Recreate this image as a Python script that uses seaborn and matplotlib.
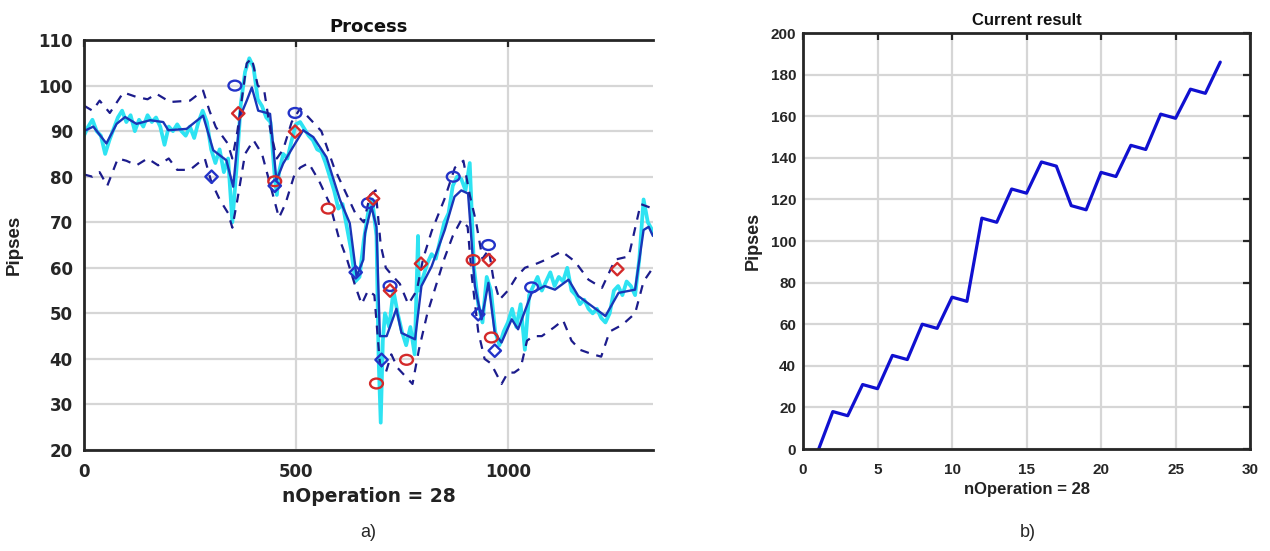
import matplotlib
matplotlib.use("Agg")
import matplotlib.pyplot as plt
import matplotlib.path as mpath
from matplotlib.transforms import Affine2D
import seaborn as sns

# ---------- panel a) Process ----------
raw_x = [0, 10, 20, 30, 40, 50, 60, 70, 80, 90, 100, 110, 120, 130, 140, 150, 160, 170, 180, 190,
         200, 210, 220, 230, 240, 250, 260, 270, 280, 290, 300, 310, 320, 330, 340, 350, 360, 370,
         380, 390, 400, 410, 420, 430, 440, 450, 455, 460, 470, 480, 490, 500, 510, 520, 530, 540,
         550, 560, 570, 580, 590, 600, 610, 620, 630, 640, 650, 660, 670, 680, 690, 695, 700, 705,
         710, 720, 730, 740, 750, 760, 770, 780, 788, 790, 800, 810, 820, 830, 840, 850, 860, 870,
         880, 890, 900, 910, 920, 930, 940, 950, 960, 970, 980, 990, 1000, 1010, 1020, 1030, 1040,
         1050, 1060, 1070, 1080, 1090, 1100, 1110, 1120, 1130, 1140, 1150, 1160, 1170, 1180, 1190,
         1200, 1210, 1220, 1230, 1240, 1250, 1260, 1270, 1280, 1290, 1300, 1310, 1320, 1330, 1342]
raw_y = [89, 91, 92.5, 90, 89, 85, 88, 90.5, 93, 94.5, 92, 93.5, 90, 92.5, 91, 93.5, 92, 93, 91, 87,
         91, 90, 91.5, 90, 89, 91, 88.5, 92, 94.5, 92, 86, 83, 86, 81, 84, 70, 82, 96,
         103, 106, 104, 97, 95.5, 93, 92, 80, 76, 81, 85, 84, 88, 91.5, 92, 90.5, 89, 88,
         86, 85.5, 83, 80, 77, 73, 74, 69, 64, 57, 58, 66, 72, 75, 67, 40, 26, 44,
         50, 47, 55, 50, 46, 43, 47, 41, 67, 55, 58, 61, 63, 62, 66, 70, 72, 78,
         80, 79.5, 77, 83, 60, 52, 48, 58, 55, 46, 43, 46, 48, 51, 47, 52, 42,
         54, 56, 58, 55, 57, 59, 56, 58, 57, 60, 55, 54, 52, 53, 51,
         50, 51, 49, 48, 50, 55, 56, 54, 57, 56, 54, 62, 75, 70, 68]

mean_x = [0, 22, 53, 77, 97, 124, 156, 187, 199, 242, 281, 305, 336, 352, 368, 384, 396, 411, 439,
          454, 470, 493, 517, 541, 572, 604, 627, 643, 659, 663, 678, 690, 698, 714, 737, 749, 781,
          796, 820, 851, 874, 890, 906, 922, 938, 954, 969, 985, 1009, 1024, 1056, 1087, 1111,
          1143, 1166, 1198, 1230, 1261, 1300, 1320, 1332, 1342]
mean_y = [90, 91, 87.3, 91.6, 93.1, 91.6, 92.4, 92, 90.2, 90.5, 93.4, 85.8, 83.6, 77.8, 93.1, 96.7,
          99.6, 94.5, 93.8, 79.2, 82.9, 86.5, 90.2, 88.7, 84.3, 74.9, 69.8, 58.1, 61.8, 67.6, 73.4,
          69, 45, 45, 51, 45.7, 44.3, 56, 60.3, 68.3, 75.6, 77, 76.3, 56, 48.7, 56.7, 45.7, 43.6,
          48.7, 46.5, 54.5, 56, 55.2, 57.4, 53.8, 51.6, 49.4, 54.5, 55.2, 68.3, 69, 67]

up_x = [0, 20, 37, 61, 93, 124, 150, 171, 203, 250, 281, 296, 311, 339, 350, 362, 384, 396, 410,
        425, 440, 455, 470, 490, 510, 530, 560, 590, 615, 640, 660, 675, 688, 700, 712, 730, 745,
        765, 785, 800, 820, 850, 875, 895, 910, 925, 940, 955, 965, 980, 1000, 1020, 1040, 1070,
        1095, 1127, 1158, 1190, 1222, 1253, 1285, 1313, 1342]
up_y = [95.6, 94.5, 96.7, 94, 98.5, 97.5, 97, 98.2, 96.4, 96.7, 98.9, 94.5, 90.9, 87.3, 84, 90,
        104.9, 106, 100, 99, 90, 84, 86, 92, 95, 93, 90, 82, 77, 72, 70, 76, 77, 65, 60, 58, 56.5,
        52, 55, 62, 68, 75, 82, 83.5, 76, 70, 62, 64, 58, 53, 55, 58, 60, 61,
        62, 63.6, 61.4, 57.4, 55.6, 61.8, 62.5, 74, 73]

lo_x = [0, 20, 37, 55, 80, 100, 124, 150, 175, 200, 220, 250, 270, 285, 300, 320, 340, 350, 362,
        380, 400, 420, 440, 460, 475, 495, 510, 530, 555, 580, 600, 620, 640, 655, 670, 685, 698,
        712, 725, 740, 760, 775, 790, 810, 830, 850, 870, 890, 905, 915, 930, 945, 960, 985, 1000,
        1015, 1030, 1045, 1060, 1080, 1110, 1130, 1150, 1170, 1200, 1220, 1240, 1270, 1300, 1320,
        1342]
lo_y = [80.5, 80, 81, 78, 84, 83.5, 82.5, 84, 82.5, 84, 81.5, 81.5, 83, 84, 79, 75, 72, 68.8, 75,
        85, 88, 85, 78, 71, 74, 80, 82, 83, 79, 74, 67, 62, 56, 52, 55, 54, 39,
        37, 41, 38, 36, 34.5, 42, 50, 56, 62, 67, 70.5, 69, 58, 46, 40, 39, 34.5, 37,
        37, 38, 44, 45, 45, 47, 48.5, 44, 42, 41, 40.5, 46, 47.5, 50, 57,
        60]

blue_circ_x = [356, 498, 671, 722, 871, 954, 1056]
blue_circ_y = [100, 94, 74.2, 56, 80, 65, 55.7]
red_circ_x = [450, 576, 690, 761, 918, 961]
red_circ_y = [79, 73, 34.6, 39.8, 61.7, 44.7]
blue_dia_x = [301, 450, 641, 702, 930, 969]
blue_dia_y = [80, 78, 59, 39.8, 49.8, 41.8]
red_dia_x = [364, 498, 682, 722, 795, 955, 1258]
red_dia_y = [93.9, 89.9, 75.2, 55, 60.9, 61.7, 59.7]

# ---------- panel b) Current result ----------
ops = list(range(1, 29))
pipses = [-1, 18, 16, 31, 29, 45, 43, 60, 58, 73, 71, 111, 109, 125, 123, 138, 136, 117, 115,
          133, 131, 146, 144, 161, 159, 173, 171, 186]

sns.set_theme(style="whitegrid")
plt.rcParams['font.family'] = ['Liberation Sans', 'DejaVu Sans']

fig = plt.figure(figsize=(12.7, 5.51), dpi=100)
axL = fig.add_axes([0.0661, 0.1833, 0.448, 0.744])
axR = fig.add_axes([0.6323, 0.1851, 0.352, 0.755])

spine_c = '#262626'
grid_c = '#d6d6d6'

def style(ax, right_spine, tick_fs, family):
    ax.set_facecolor('white')
    ax.grid(True, color=grid_c, lw=1.6)
    for s in ['left', 'bottom', 'top', 'right']:
        ax.spines[s].set_color(spine_c)
        ax.spines[s].set_linewidth(2)
    ax.spines['right'].set_visible(right_spine)
    ax.tick_params(direction='in', length=5, width=1.6, color=spine_c,
                   labelcolor=spine_c, top=True, right=right_spine, labelsize=tick_fs)
    for lab in ax.get_xticklabels() + ax.get_yticklabels():
        lab.set_fontweight('bold')
        lab.set_family(family)

ell = mpath.Path.unit_circle().transformed(Affine2D().scale(1.3, 1.0))
blue_m = '#2333c8'
red_m = '#d42a2a'

sns.lineplot(x=raw_x, y=raw_y, ax=axL, color='#2ee3f2', lw=2.7, sort=False, estimator=None)
sns.lineplot(x=mean_x, y=mean_y, ax=axL, color='#1a36b8', lw=1.7, sort=False, estimator=None)
sns.lineplot(x=up_x, y=up_y, ax=axL, color='#1c1c8c', lw=1.6, sort=False, estimator=None,
             linestyle=(0, (4, 3.5)))
sns.lineplot(x=lo_x, y=lo_y, ax=axL, color='#1c1c8c', lw=1.6, sort=False, estimator=None,
             linestyle=(0, (4, 3.5)))
sns.scatterplot(x=blue_circ_x, y=blue_circ_y, ax=axL, marker=ell, s=85, facecolor='none',
                edgecolor=blue_m, linewidth=1.7, zorder=5)
sns.scatterplot(x=red_circ_x, y=red_circ_y, ax=axL, marker=ell, s=85, facecolor='none',
                edgecolor=red_m, linewidth=1.7, zorder=5)
sns.scatterplot(x=blue_dia_x, y=blue_dia_y, ax=axL, marker='D', s=40, facecolor='none',
                edgecolor=blue_m, linewidth=1.7, zorder=6)
sns.scatterplot(x=red_dia_x, y=red_dia_y, ax=axL, marker='D', s=40, facecolor='none',
                edgecolor=red_m, linewidth=1.7, zorder=6)

axL.set_xlim(0, 1342)
axL.set_ylim(20, 110)
axL.set_xticks([0, 500, 1000])
axL.set_yticks(range(20, 111, 10))
style(axL, False, 12, 'DejaVu Sans')
axL.tick_params(axis='x', pad=9)
axL.tick_params(axis='y', pad=8)
axL.set_title('Process', fontsize=13, fontweight='bold', family='DejaVu Sans', color='#111', pad=6)
axL.set_xlabel('nOperation = 28', fontsize=13.5, fontweight='bold', family='DejaVu Sans',
               color='#222', labelpad=5)
axL.set_ylabel('Pipses', fontsize=13.5, fontweight='bold', color='#222', labelpad=11)

sns.lineplot(x=ops, y=pipses, ax=axR, color='#1010d0', lw=2.3, sort=False, estimator=None)
axR.set_xlim(0, 30)
axR.set_ylim(0, 200)
axR.set_xticks(range(0, 31, 5))
axR.set_yticks(range(0, 201, 20))
style(axR, True, 11, 'Liberation Sans')
axR.tick_params(axis='x', pad=10)
axR.tick_params(axis='y', pad=5)
axR.set_title('Current result', fontsize=12, fontweight='bold', color='#111', pad=6)
axR.set_xlabel('nOperation = 28', fontsize=12, fontweight='bold', color='#222', labelpad=4)
axR.set_ylabel('Pipses', fontsize=13, fontweight='bold', color='#222', labelpad=6)

fig.text(0.2898, 0.0327, 'a)', ha='center', va='center', fontsize=13)
fig.text(0.8094, 0.0327, 'b)', ha='center', va='center', fontsize=13)

fig.savefig('out.png', dpi=100, facecolor='white')
